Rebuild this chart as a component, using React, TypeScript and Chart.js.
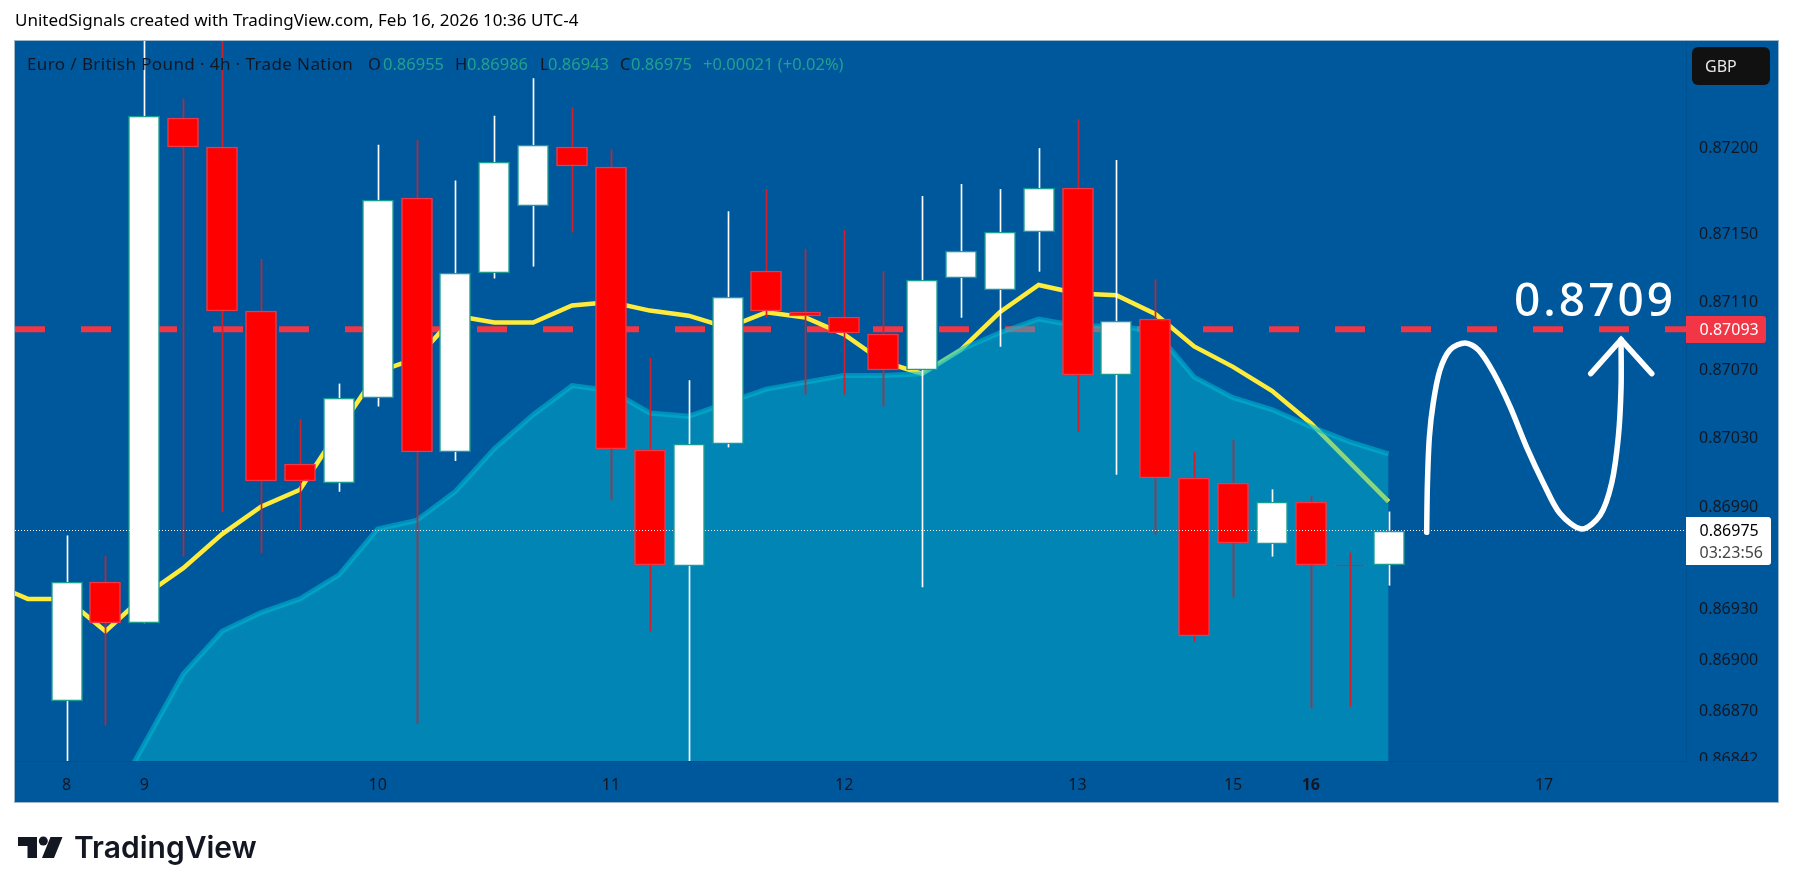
import React, { useEffect, useRef } from "react";
import { Chart, registerables } from "chart.js";

Chart.register(...registerables);

// OHLC in units of 0.00001 GBP, index 0 = first candle on the left
const opens = [86875, 86945, 86921, 87217, 87200, 87104, 87014, 87003, 87053, 87170, 87021, 87126, 87165, 87200, 87188, 87022, 86954, 87026, 87127, 87103, 87100, 87090, 87069, 87123, 87116, 87150, 87176, 87066, 87099, 87006, 87003, 86967, 86992, 86955, 86955];
const highs = [86972, 86960, 87290, 87228, 87290, 87134, 87040, 87061, 87201, 87204, 87180, 87218, 87240, 87223, 87198, 87076, 87063, 87162, 87175, 87140, 87151, 87127, 87171, 87178, 87175, 87199, 87216, 87192, 87122, 87021, 87028, 86999, 86995, 86962, 86986];
const lows = [86830, 86861, 86921, 86960, 86986, 86962, 86975, 86998, 87048, 86862, 87016, 87123, 87130, 87150, 86993, 86916, 86830, 87024, 87100, 87055, 87055, 87048, 86942, 87100, 87083, 87127, 87033, 87008, 86973, 86910, 86936, 86960, 86871, 86872, 86943];
const closes = [86945, 86921, 87218, 87200, 87104, 87004, 87004, 87053, 87169, 87021, 87126, 87191, 87201, 87189, 87023, 86955, 87026, 87112, 87104, 87101, 87091, 87069, 87122, 87139, 87150, 87176, 87066, 87098, 87006, 86913, 86968, 86992, 86955, 86954, 86975];

const yellowIdx = [-2, -1, 0, 1, 2, 3, 4, 5, 6, 7, 8, 9, 10, 11, 12, 13, 14, 15, 16, 17, 18, 19, 20, 21, 22, 23, 24, 25, 26, 27, 28, 29, 30, 31, 32, 33, 34];
const yellowVals = [86945, 86935, 86935, 86916, 86937, 86953, 86973, 86989, 86999, 87034, 87068, 87076, 87101, 87097, 87097, 87107, 87109, 87104, 87101, 87094, 87103, 87100, 87090, 87074, 87067, 87081, 87103, 87119, 87114, 87113, 87102, 87083, 87071, 87057, 87038, 87015, 86992];

const areaIdx = [1, 2, 3, 4, 5, 6, 7, 8, 9, 10, 11, 12, 13, 14, 15, 16, 17, 18, 19, 20, 21, 22, 23, 24, 25, 26, 27, 28, 29, 30, 31, 32, 33, 34];
const areaVals = [86809, 86850, 86891, 86916, 86927, 86935, 86949, 86976, 86981, 86998, 87023, 87043, 87060, 87057, 87044, 87042, 87050, 87058, 87062, 87066, 87066, 87067, 87081, 87091, 87099, 87095, 87095, 87092, 87065, 87053, 87046, 87036, 87027, 87020];

const drawnCurveIdx = [34.98, 35.0, 35.05, 35.15, 35.32, 35.58, 35.97, 36.31, 36.69, 37.12, 37.55, 37.98, 38.41, 38.97, 39.44, 39.74, 39.91, 39.98, 39.98];
const drawnCurveVals = [86974, 87003, 87030, 87050, 87069, 87081, 87085, 87081, 87068, 87048, 87024, 87003, 86985, 86976, 86984, 87003, 87030, 87059, 87087];
const arrowIdx = [39.2, 39.98, 40.77];
const arrowVals = [87067, 87087, 87067];

const priceTicks = [87200, 87150, 87110, 87070, 87030, 86990, 86930, 86900, 86870, 86842];
const timeTickIdx = [0, 2, 8, 14, 20, 26, 30, 32, 38];
const timeTickLabels = ["8", "9", "10", "11", "12", "13", "15", "16", "17"];
const boldTimeLabel = "16";

const targetPrice = 87093;
const lastPrice = 86975;
const title = "UnitedSignals created with TradingView.com, Feb 16, 2026 10:36 UTC-4";
const legendName = "Euro / British Pound · 4h · Trade Nation";
const legendOHLC = [["O", "0.86955"], ["H", "0.86986"], ["L", "0.86943"], ["C", "0.86975"]];
const legendChange = "+0.00021 (+0.02%)";

const X_MIN = -1.327;
const X_MAX = 41.65;
const P = (v: number) => v / 100000;
const FONT = '"Noto Sans", sans-serif';
const BG = "#00589C";
const INK = "#131722";

const overlay = {
  id: "overlay",
  afterDatasetsUpdate(c: any) {
    c.data.datasets.forEach((d: any, di: number) => {
      const meta = c.getDatasetMeta(di);
      if (d.label === "bodies") {
        meta.data.forEach((el: any) => {
          el.x = Math.round(el.x);
          el.y = Math.round(el.y);
          el.base = Math.round(el.base);
        });
      } else if (d.label === "wicks") {
        meta.data.forEach((el: any) => {
          el.x = Math.round(el.x) + 0.5;
        });
      } else if (d.label === "last") {
        meta.data.forEach((el: any) => {
          el.y = Math.floor(el.y) + 0.5;
        });
      }
    });
  },
  beforeDraw(c: any) {
    const g = c.ctx;
    g.save();
    g.fillStyle = "#ffffff";
    g.fillRect(0, 0, c.width, c.height);
    g.fillStyle = BG;
    g.fillRect(15, 41, 1763, 761);
    g.strokeStyle = "#9FB7CC";
    g.lineWidth = 1;
    g.strokeRect(14.5, 40.5, 1764, 762);
    g.restore();
  },
  afterDraw(c: any) {
    const g = c.ctx;
    g.save();
    // bottom-right corner hides the clipped last price label
    g.fillStyle = BG;
    g.fillRect(1687, 761, 91, 41);

    g.textBaseline = "middle";
    g.textAlign = "left";

    // header
    g.fillStyle = "#000000";
    g.font = `17px ${FONT}`;
    g.fillText(title, 15, 21.5);

    // legend
    g.fillStyle = INK;
    g.font = `17px ${FONT}`;
    (g as any).letterSpacing = "0.4px";
    g.fillText(legendName, 27, 65);
    (g as any).letterSpacing = "0px";
    g.font = `16.5px ${FONT}`;
    const lx = [368, 455, 540, 620];
    const vx = [383, 467, 548, 631];
    legendOHLC.forEach(([k, v], i) => {
      g.fillStyle = INK;
      g.fillText(k, lx[i], 65);
      g.fillStyle = "#22A08F";
      g.fillText(v, vx[i], 65);
    });
    g.fillText(legendChange, 703, 65);

    // GBP badge
    g.font = `16px ${FONT}`;
    g.fillStyle = "#111111";
    g.beginPath();
    g.roundRect(1692, 47, 78, 38, 6);
    g.fill();
    g.fillStyle = "#E8E8E8";
    g.fillText("GBP", 1705, 67);

    // target label
    g.fillStyle = "#F23645";
    g.beginPath();
    g.roundRect(1686, 316, 80, 27, [0, 3, 3, 0]);
    g.fill();
    g.fillStyle = "#ffffff";
    g.fillText(P(targetPrice).toFixed(5), 1699.5, 330);

    // last price label
    g.fillStyle = "#ffffff";
    g.beginPath();
    g.roundRect(1686, 517, 85, 48, [0, 3, 3, 0]);
    g.fill();
    g.fillStyle = "#000000";
    g.fillText(P(lastPrice).toFixed(5), 1699.5, 531.5);
    g.fillStyle = "#444444";
    g.fillText("03:23:56", 1699.5, 553);

    // big annotation
    g.fillStyle = "#ffffff";
    g.font = `500 46px ${FONT}`;
    (g as any).letterSpacing = "3px";
    g.fillText("0.8709", 1514, 303);
    (g as any).letterSpacing = "0px";

    // logo
    g.fillStyle = "#131722";
    g.beginPath();
    g.moveTo(18, 837); g.lineTo(37, 837); g.lineTo(37, 858); g.lineTo(27.5, 858); g.lineTo(27.5, 846); g.lineTo(18, 846);
    g.closePath();
    g.fill();
    g.beginPath();
    g.arc(43.3, 841, 4.5, 0, Math.PI * 2);
    g.fill();
    g.beginPath();
    g.moveTo(50.5, 837); g.lineTo(62.5, 837); g.lineTo(54, 858); g.lineTo(42, 858);
    g.closePath();
    g.fill();
    g.font = `600 30px Inter, ${FONT}`;
    g.textBaseline = "alphabetic";
    g.fillText("TradingView", 74, 858);
    g.restore();
  },
};

export default function App() {
  const ref = useRef<HTMLCanvasElement | null>(null);
  useEffect(() => {
    if (!ref.current) return;
    const up = (i: number) => closes[i] >= opens[i];
    const chart = new Chart(ref.current, {
      type: "bar",
      plugins: [overlay],
      data: {
        datasets: [
          {
            type: "line",
            label: "last",
            order: 0,
            data: [{ x: X_MIN, y: P(lastPrice) }, { x: X_MAX, y: P(lastPrice) }],
            borderColor: "#ffffff",
            borderWidth: 1,
            borderDash: [1, 2],
            pointRadius: 0,
          },
          {
            type: "line",
            label: "drawing",
            order: 1,
            data: drawnCurveIdx.map((x, i) => ({ x, y: P(drawnCurveVals[i]) })),
            borderColor: "#ffffff",
            borderWidth: 5.5,
            borderCapStyle: "round",
            tension: 0.3,
            pointRadius: 0,
          },
          {
            type: "line",
            label: "arrow",
            order: 1,
            data: arrowIdx.map((x, i) => ({ x, y: P(arrowVals[i]) })),
            borderColor: "#ffffff",
            borderWidth: 5.5,
            borderCapStyle: "round",
            pointRadius: 0,
          },
          {
            type: "bar",
            label: "bodies",
            order: 2,
            grouped: false,
            barThickness: 31,
            data: opens.map((o, i) => ({ x: i, y: [P(o), P(closes[i])] })),
            backgroundColor: opens.map((_, i) => (up(i) ? "#ffffff" : "#FF0000")),
            borderColor: opens.map((_, i) => (up(i) ? "#1B9C90" : "#F23645")),
            borderWidth: 1.5,
            borderSkipped: false,
          },
          {
            type: "bar",
            label: "wicks",
            order: 3,
            grouped: false,
            barThickness: 1,
            data: highs.map((h, i) => ({ x: i, y: [P(lows[i]), P(h)] })),
            backgroundColor: highs.map((_, i) => (up(i) ? "#ffffff" : "#D2202A")),
            borderWidth: 0,
          },
          {
            type: "line",
            label: "area",
            order: 4,
            data: areaIdx.map((x, i) => ({ x, y: P(areaVals[i]) })),
            borderColor: "rgba(0,188,212,0.55)",
            backgroundColor: "rgba(0,188,212,0.45)",
            borderWidth: 5,
            fill: "start",
            pointRadius: 0,
          },
          {
            type: "line",
            label: "ma",
            order: 5,
            data: yellowIdx.map((x, i) => ({ x, y: P(yellowVals[i]) })),
            borderColor: "#FFEB3B",
            borderWidth: 4.5,
            pointRadius: 0,
          },
          {
            type: "line",
            label: "target",
            order: 6,
            data: [{ x: X_MIN, y: P(targetPrice) }, { x: X_MAX, y: P(targetPrice) }],
            borderColor: "#F23645",
            borderWidth: 6,
            borderDash: [30, 36],
            pointRadius: 0,
          },
        ] as any,
      },
      options: {
        animation: false,
        responsive: false,
        devicePixelRatio: 1,
        parsing: { xAxisKey: "x", yAxisKey: "y" } as any,
        layout: { padding: { left: 15, top: 41, right: 15, bottom: 91 } },
        plugins: { legend: { display: false }, tooltip: { enabled: false }, title: { display: false } },
        scales: {
          x: {
            type: "linear",
            offset: false,
            min: X_MIN,
            max: X_MAX,
            grid: { display: false, drawTicks: false, offset: false },
            border: { display: true, color: "rgba(0,0,0,0.08)" },
            afterBuildTicks: (s: any) => {
              s.ticks = timeTickIdx.map((value) => ({ value }));
            },
            afterFit: (s: any) => {
              s.height = 41;
            },
            ticks: {
              autoSkip: false,
              maxRotation: 0,
              padding: 15,
              color: INK,
              font: (ctx: any) => {
                const label = timeTickLabels[timeTickIdx.indexOf(ctx.tick?.value)];
                return { family: '"Noto Sans", sans-serif', size: 16, weight: label === boldTimeLabel ? "bold" : "normal" } as any;
              },
              callback: (v: any) => timeTickLabels[timeTickIdx.indexOf(v)] ?? "",
            },
          },
          y: {
            type: "linear",
            position: "right",
            min: P(86840),
            max: P(87262),
            grid: { display: false, drawTicks: false },
            border: { display: true, color: "rgba(0,0,0,0.08)" },
            afterBuildTicks: (s: any) => {
              s.ticks = priceTicks.map((v) => ({ value: P(v) }));
            },
            afterFit: (s: any) => {
              s.width = 92;
            },
            ticks: {
              autoSkip: false,
              padding: 13,
              labelOffset: 2,
              color: INK,
              font: { family: '"Noto Sans", sans-serif', size: 16 },
              callback: (v: any) => Number(v).toFixed(5),
            },
          },
        },
      },
    } as any);
    return () => chart.destroy();
  }, []);
  return (
    <div style={{ position: "fixed", inset: 0, background: "#fff" }}>
      <canvas ref={ref} width={1793} height={893} style={{ display: "block", width: 1793, height: 893 }} />
    </div>
  );
}
